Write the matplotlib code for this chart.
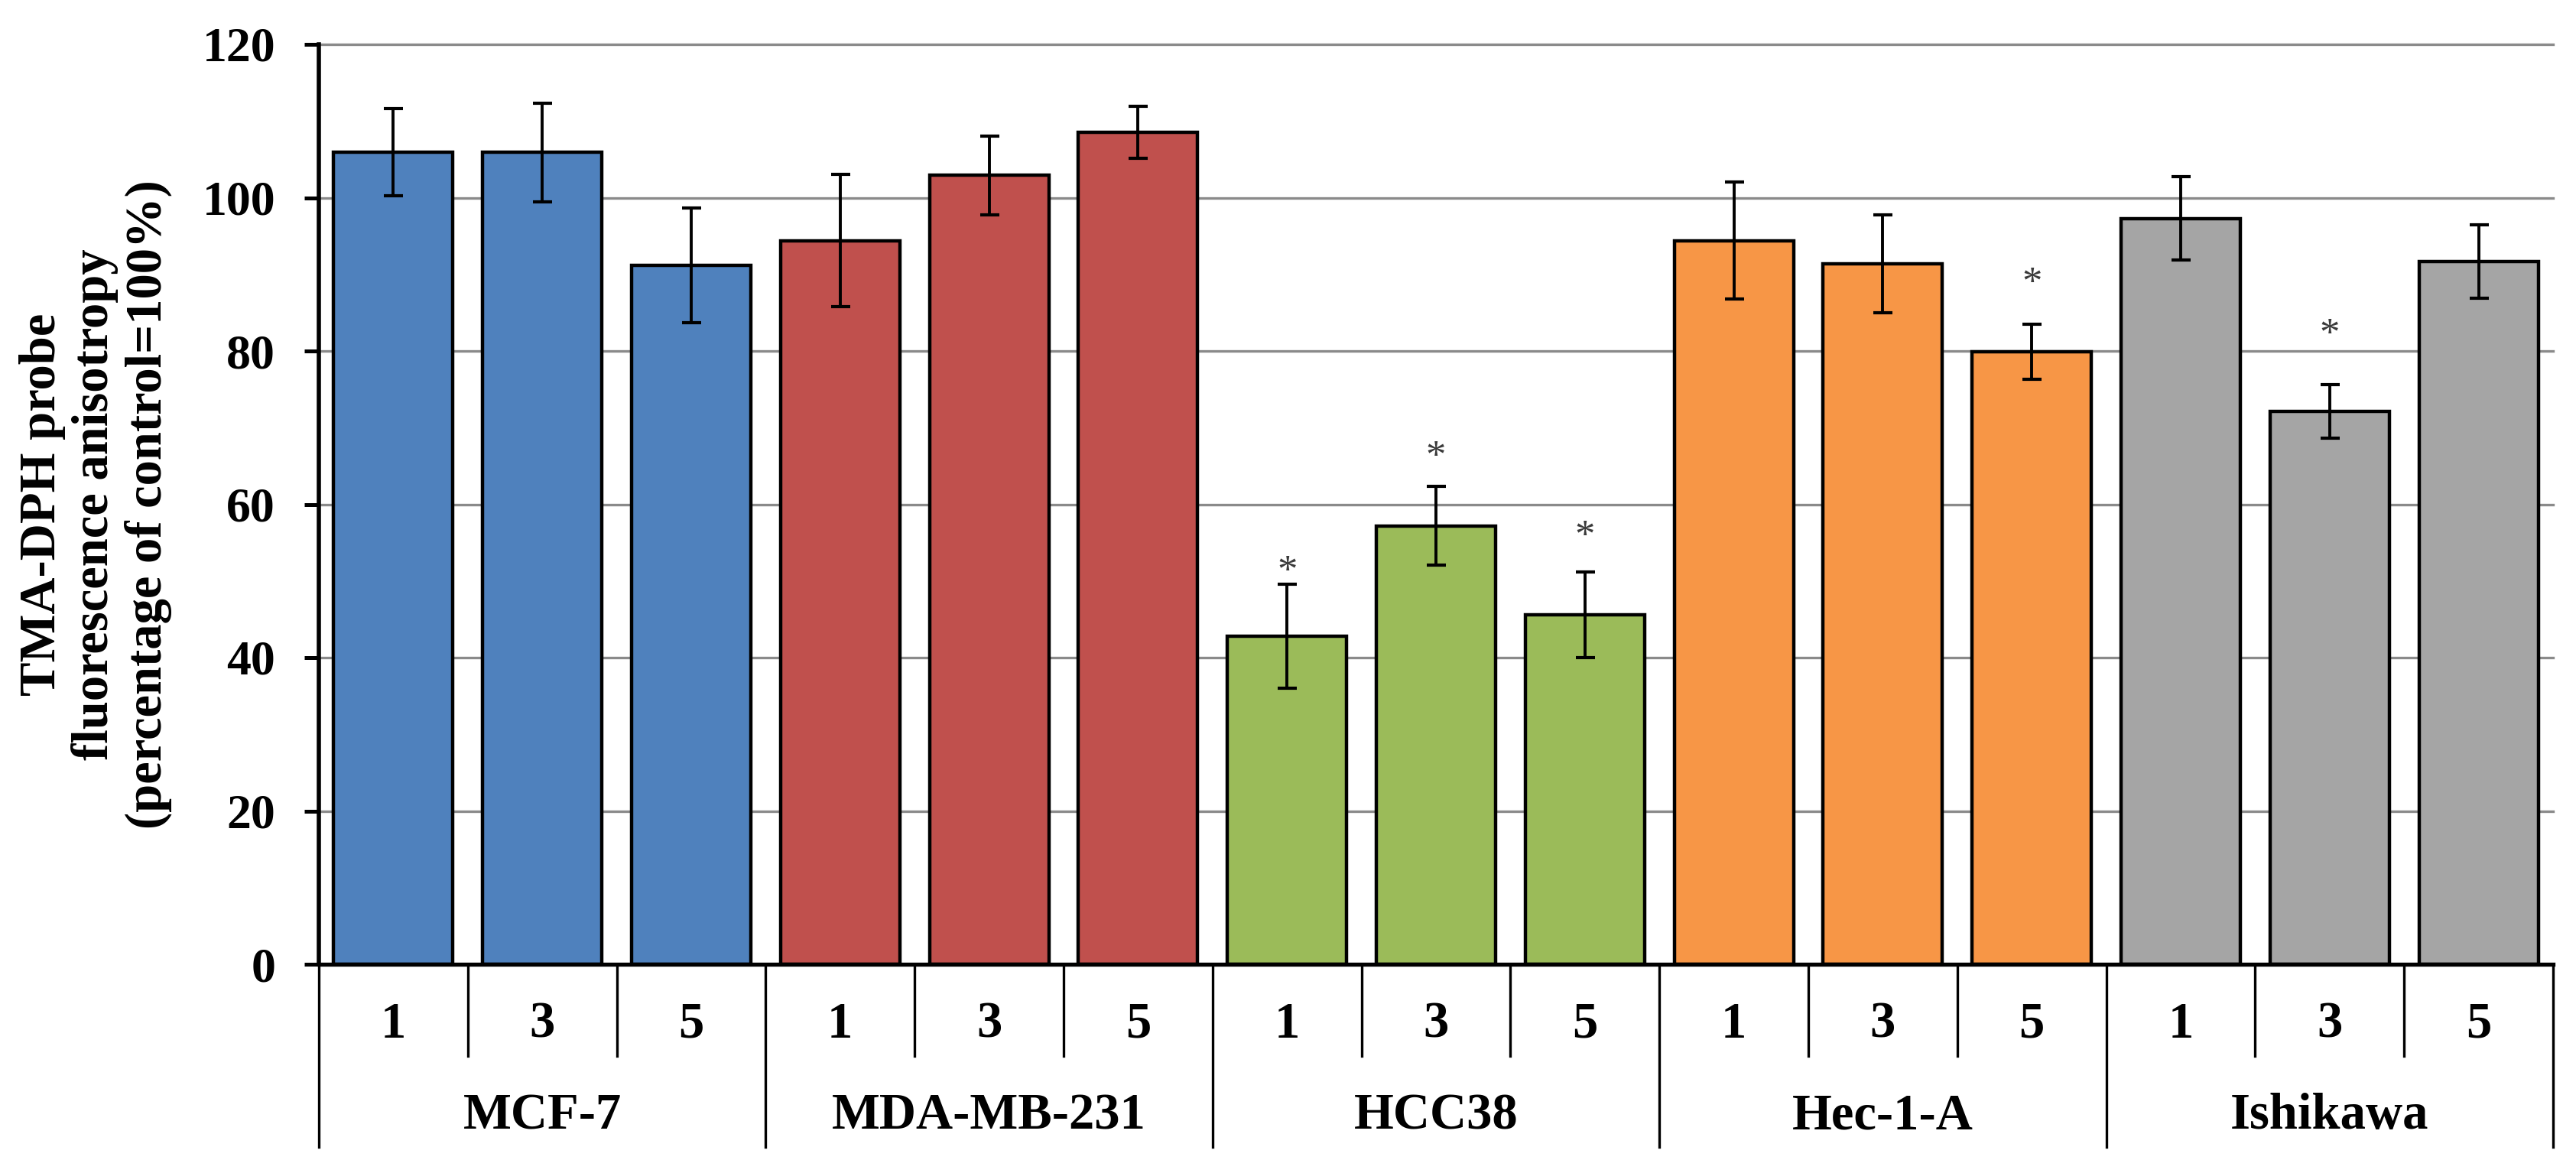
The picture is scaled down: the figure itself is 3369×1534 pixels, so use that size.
import numpy as np
import matplotlib
matplotlib.use("Agg")
import matplotlib.pyplot as plt
import matplotlib.transforms as mtransforms

plt.rcParams['font.family'] = ['Liberation Serif', 'DejaVu Serif']

# data
cell_lines = ["MCF-7", "MDA-MB-231", "HCC38", "Hec-1-A", "Ishikawa"]
doses = ["1", "3", "5"]
values = [105.9, 105.9, 91.2,
          94.4, 102.9, 108.5,
          42.8, 57.2, 45.6,
          94.4, 91.4, 79.9,
          97.3, 72.1, 91.7]
errors = [5.7, 6.4, 7.5,
          8.6, 5.1, 3.4,
          6.8, 5.1, 5.6,
          7.6, 6.4, 3.6,
          5.4, 3.5, 4.8]
# significance stars: bar index -> height of the star
star_bars = [6, 7, 8, 11, 13]
star_heights = [52.7, 67.7, 57.3, 90.3, 83.6]
group_colors = ["#4F81BD", "#C0504D", "#9BBB59", "#F79646", "#A5A5A5"]

W, H, DPI = 3369, 1534, 100

fig = plt.figure(figsize=(W / DPI, H / DPI), dpi=DPI)
ax = fig.add_axes([417 / W, 1 - 1261 / H, 2922 / W, 1203 / H])

n_groups = len(cell_lines)
n_doses = len(doses)
x = np.arange(n_groups * n_doses) + 0.5
colors = [group_colors[i // n_doses] for i in range(len(values))]

ax.bar(x, values, width=0.8, color=colors, edgecolor="black", linewidth=3.2, zorder=2)
ax.errorbar(x, values, yerr=errors, fmt="none", ecolor="black",
            elinewidth=2.8, capsize=9, capthick=3, zorder=3)

# star glyph sits high in its box, so anchor on the baseline and shift down
star_size = 38
for b, h in zip(star_bars, star_heights):
    ax.annotate("*", xy=(x[b], h), xytext=(0, -0.56 * star_size),
                textcoords="offset points", ha="center", va="baseline",
                fontsize=star_size, color="#3a3a3a", zorder=4)

ax.set_xlim(0, n_groups * n_doses)
ax.set_ylim(0, 120)
ax.set_yticks(np.arange(0, 121, 20))
ax.tick_params(axis="y", direction="out", length=14, width=3.6, pad=27,
               labelsize=46)
for lab in ax.get_yticklabels():
    lab.set_fontweight("bold")
ax.set_xticks([])

ax.grid(axis="y", color="#8a8a8a", linewidth=2.4)
ax.set_axisbelow(True)
for gl in ax.yaxis.get_gridlines():
    gl.set_clip_on(False)

for side in ["top", "right"]:
    ax.spines[side].set_visible(False)
ax.spines["left"].set_linewidth(4.0)
ax.spines["bottom"].set_linewidth(3.8)

# category axis: dose labels, cell line labels, separators
trans = mtransforms.blended_transform_factory(ax.transData, ax.transAxes)
for i in range(len(values)):
    ax.text(x[i], -0.0657, doses[i % n_doses], transform=trans, ha="center",
            va="center", fontsize=48, fontweight="bold", clip_on=False)
for g, name in enumerate(cell_lines):
    ax.text(g * n_doses + n_doses / 2, -0.1654, name, transform=trans,
            ha="center", va="center", fontsize=48, fontweight="bold", clip_on=False)
for k in range(n_groups * n_doses + 1):
    bottom = -0.1987 if k % n_doses == 0 else -0.0998
    ax.plot([k, k], [0, bottom], transform=trans, color="black",
            linewidth=2.4, clip_on=False)

fig.text(125 / W, 1 - 660 / H,
         "TMA-DPH probe\nfluorescence anisotropy\n(percentage of control=100%)",
         rotation=90, ha="center", va="center", multialignment="center",
         fontsize=48, fontweight="bold", linespacing=1.15)

fig.savefig("out.png", dpi=DPI)
plt.close(fig)
